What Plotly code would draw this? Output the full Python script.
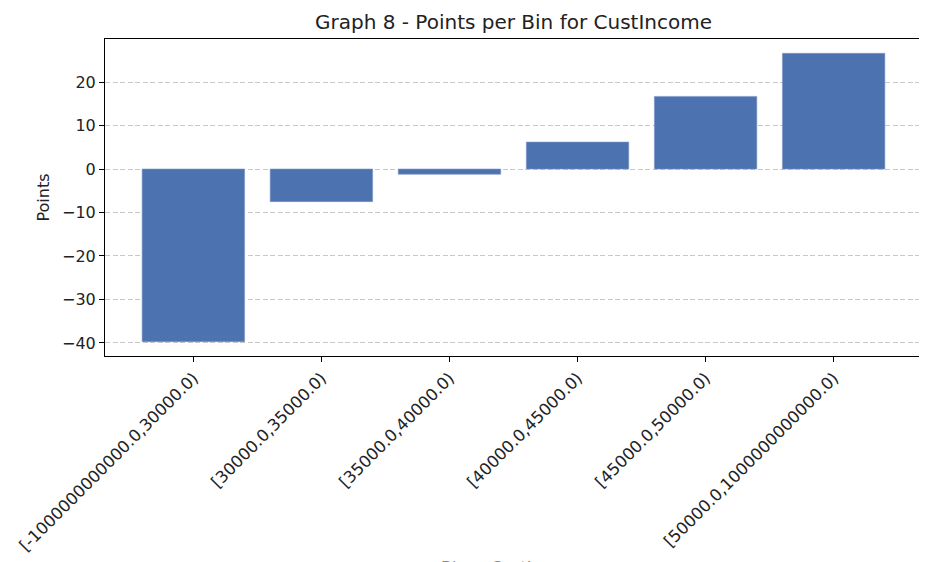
import plotly.graph_objects as go

# bins and points
bins = ["[-1000000000000.0,30000.0)", "[30000.0,35000.0)", "[35000.0,40000.0)",
        "[40000.0,45000.0)", "[45000.0,50000.0)", "[50000.0,1000000000000.0)"]
points = [-39.7, -7.5, -1.2, 6.2, 16.7, 26.6]
y_ticks = [-40, -30, -20, -10, 0, 10, 20]

font = "DejaVu Sans"
text_color = "#222222"

fig = go.Figure()
fig.add_trace(go.Bar(x=list(range(len(bins))), y=points, width=0.8,
                     marker=dict(color="#4C72B0", line=dict(width=0.6, color="#7a96c8"))))

# page is drawn with an 8px body offset, margins allow for it
fig.update_layout(
    width=927, height=562,
    margin=dict(l=97, r=13, t=31, b=214),
    paper_bgcolor="white", plot_bgcolor="white",
    showlegend=False,
    font=dict(family=font, size=16, color=text_color),
    title=dict(text="Graph 8 - Points per Bin for CustIncome", xref="paper", x=0.5,
               xanchor="center", y=0.975, yanchor="middle",
               font=dict(size=20, color=text_color)),
)
fig.update_xaxes(tickvals=list(range(len(bins))), ticktext=bins, tickangle=-45,
                 range=[-0.69, 5.69], showgrid=False, zeroline=False, automargin=False,
                 showline=True, linecolor="black", linewidth=1, mirror=True,
                 ticks="outside", ticklen=5, tickcolor="black",
                 tickfont=dict(size=16.5, color=text_color))
fig.update_yaxes(range=[-43.0, 29.9], tickvals=y_ticks, automargin=False,
                 showgrid=True, gridcolor="#c8c8c8", griddash="5px,2.5px", gridwidth=1,
                 zeroline=False, showline=True, linecolor="black", linewidth=1, mirror=True,
                 ticks="outside", ticklen=5, tickcolor="black",
                 tickfont=dict(size=16, color=text_color),
                 title=dict(text="Points", font=dict(size=16, color=text_color), standoff=8))

# x-axis title sits mostly below the visible page, as in the reference
fig.add_annotation(text="Bins - CustIncome", xref="paper", yref="paper", x=0.5, y=-0.632,
                   xanchor="center", yanchor="top", showarrow=False,
                   font=dict(size=16, color="#888888"))

fig.write_html("out.html")
